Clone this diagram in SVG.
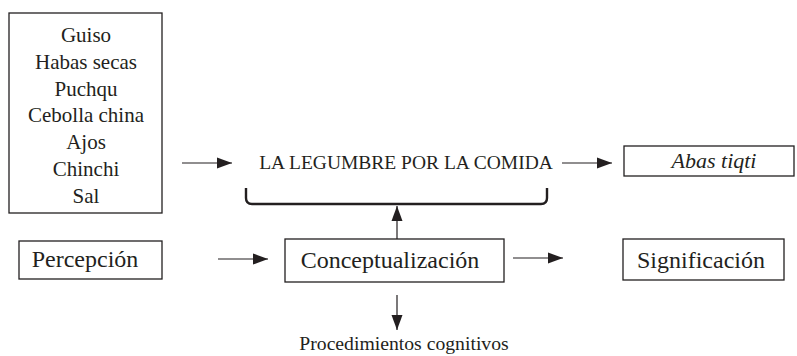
<svg xmlns="http://www.w3.org/2000/svg" width="797" height="356" viewBox="0 0 797 356">
<defs>
<style>
.box{fill:#fff;stroke:#231f20;stroke-width:1.3}
.t{font-family:"Liberation Serif","Times New Roman",serif;fill:#231f20;text-anchor:middle}
.ing{font-size:21px}
.lbl{font-size:24px}
.cap{font-size:19.5px}
.con{stroke:#231f20;stroke-width:1.2;fill:none}
.brace{stroke:#231f20;stroke-width:2.4;fill:none;stroke-linejoin:round}
</style>
<marker id="ah" markerUnits="userSpaceOnUse" markerWidth="16" markerHeight="12" refX="15" refY="6" orient="auto">
<path d="M0,0.5 L15,6 L0,11.5 Z" fill="#231f20"/>
</marker>
</defs>
<rect width="797" height="356" fill="#fff"/>
<g id="ingredientes">
<rect class="box" x="9" y="13" width="153" height="200"/>
<text class="t ing" x="86" y="42">Guiso</text>
<text class="t ing" x="86" y="69">Habas secas</text>
<text class="t ing" x="86" y="96">Puchqu</text>
<text class="t ing" x="86" y="122">Cebolla china</text>
<text class="t ing" x="86" y="149">Ajos</text>
<text class="t ing" x="86" y="176">Chinchi</text>
<text class="t ing" x="86" y="203">Sal</text>
</g>
<g id="legumbre">
<text class="t cap" x="406" y="169">LA LEGUMBRE POR LA COMIDA</text>
<path class="brace" d="M246,188 L246,198 Q246,204 252,204 L541,204 Q547,204 547,198 L547,188"/>
</g>
<g id="abas">
<rect class="box" x="624" y="146" width="170" height="30"/>
<text class="t" x="714" y="168" font-size="22px" font-style="italic">Abas tiqti</text>
</g>
<g id="percepcion">
<rect class="box" x="19" y="241" width="143" height="38"/>
<text class="t lbl" x="85" y="267">Percepción</text>
</g>
<g id="conceptualizacion">
<rect class="box" x="285" y="239" width="219" height="43"/>
<text class="t lbl" x="390" y="268">Conceptualización</text>
</g>
<g id="significacion">
<rect class="box" x="623" y="239" width="161" height="41"/>
<text class="t lbl" x="701" y="268">Significación</text>
</g>
<g id="procedimientos">
<text class="t" x="404" y="350" font-size="19.7px">Procedimientos cognitivos</text>
</g>
<g id="connectors">
<line class="con" x1="182" y1="163" x2="232" y2="163" marker-end="url(#ah)"/>
<line class="con" x1="562" y1="163" x2="612" y2="163" marker-end="url(#ah)"/>
<line class="con" x1="397" y1="239" x2="397" y2="206" marker-end="url(#ah)"/>
<line class="con" x1="218" y1="259" x2="268" y2="259" marker-end="url(#ah)"/>
<line class="con" x1="513" y1="258" x2="563" y2="258" marker-end="url(#ah)"/>
<line class="con" x1="397" y1="295" x2="397" y2="330" marker-end="url(#ah)"/>
</g>
</svg>
